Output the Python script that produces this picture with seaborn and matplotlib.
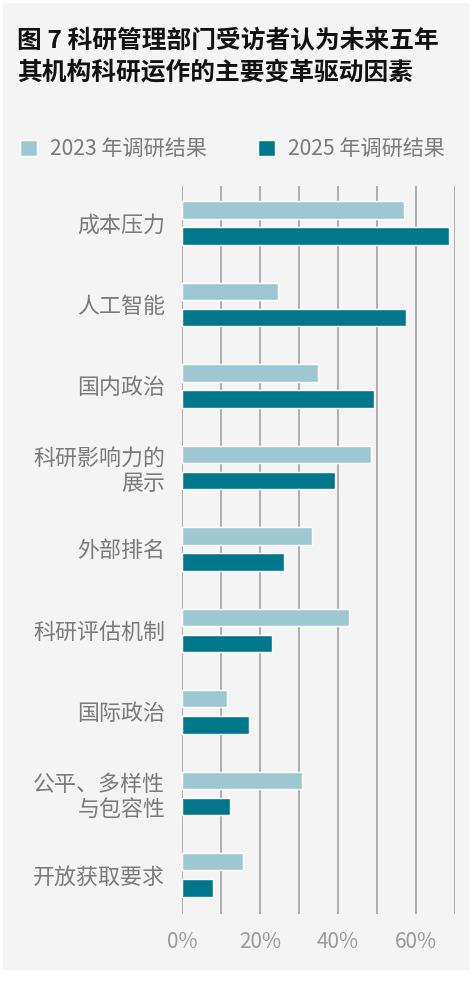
import pandas as pd
import matplotlib.pyplot as plt
import matplotlib.ticker as ticker
from matplotlib.patches import Rectangle
import seaborn as sns

categories = ["成本压力", "人工智能", "国内政治", "科研影响力的\n展示", "外部排名",
              "科研评估机制", "国际政治", "公平、多样性\n与包容性", "开放获取要求"]
values_2023 = [56.9, 24.6, 34.9, 48.5, 33.3, 42.8, 11.5, 30.8, 15.6]
values_2025 = [68.5, 57.4, 49.2, 39.2, 26.2, 23.1, 17.2, 12.3, 7.9]
series = ["2023 年调研结果", "2025 年调研结果"]
x_ticks = [0, 10, 20, 30, 40, 50, 60, 70]

BG = "#f4f4f4"
LIGHT = "#9dc8d2"
DARK = "#00778a"
GRAY = "#7a7a7a"

df = pd.DataFrame({
    "category": categories * 2,
    "value": values_2023 + values_2025,
    "series": [series[0]] * len(categories) + [series[1]] * len(categories),
})

sns.set_theme(style="white")
plt.rcParams["font.family"] = ["Noto Sans CJK SC", "DejaVu Sans"]

fig = plt.figure(figsize=(4.73, 9.81), dpi=100)
fig.patch.set_facecolor("white")
fig.patches.append(Rectangle((3 / 473, 1 - 970 / 981), 467 / 473, 967 / 981,
                             transform=fig.transFigure, facecolor=BG,
                             edgecolor="none", zorder=-10))

ax = fig.add_axes([182 / 473, 1 - 914 / 981, 273 / 473, 728 / 981])
ax.patch.set_alpha(0)

sns.barplot(data=df, y="category", x="value", hue="series", orient="h",
            palette=[LIGHT, DARK], saturation=1, width=0.64, gap=0.34,
            ax=ax, legend=False, zorder=3)

ax.set_xlim(0, 70)
ax.set_ylim(8.48, -0.454)
ax.set_xticks(x_ticks)
ax.xaxis.set_major_formatter(ticker.FuncFormatter(
    lambda v, pos: f"{int(v)}%" if int(v) % 20 == 0 else ""))
ax.grid(axis="x", color="#9a9a9a", linewidth=1.1, zorder=0)
ax.grid(axis="y", visible=False)
for s in ax.spines.values():
    s.set_visible(False)
ax.tick_params(axis="both", length=0)
ax.tick_params(axis="x", labelsize=15, labelcolor="#9a9a9a", pad=12)
ax.tick_params(axis="y", labelsize=15.8, labelcolor=GRAY, pad=12)
for lab in ax.get_xticklabels():
    lab.set_fontweight("light")
for lab in ax.get_yticklabels():
    lab.set_fontweight("light")
    lab.set_linespacing(1.15)
ax.set_xlabel("")
ax.set_ylabel("")

fig.text(17 / 473, 1 - 28 / 981, "图 7 科研管理部门受访者认为未来五年\n其机构科研运作的主要变革驱动因素",
         fontsize=17.8, fontweight="bold", color="#111111", va="top",
         ha="left", linespacing=1.42, transform=fig.transFigure)

handles = [Rectangle((0, 0), 1, 1, facecolor=c) for c in (LIGHT, DARK)]
leg = fig.legend(handles, series, loc="center left",
                 bbox_to_anchor=(1 / 473, 1 - 149 / 981), ncol=2,
                 frameon=False, handlelength=0.8, handleheight=0.8,
                 handletextpad=0.6, columnspacing=2.45, fontsize=15.2)
for t in leg.get_texts():
    t.set_color(GRAY)
    t.set_fontweight("light")

fig.savefig("out.png", dpi=100, facecolor=fig.get_facecolor())
